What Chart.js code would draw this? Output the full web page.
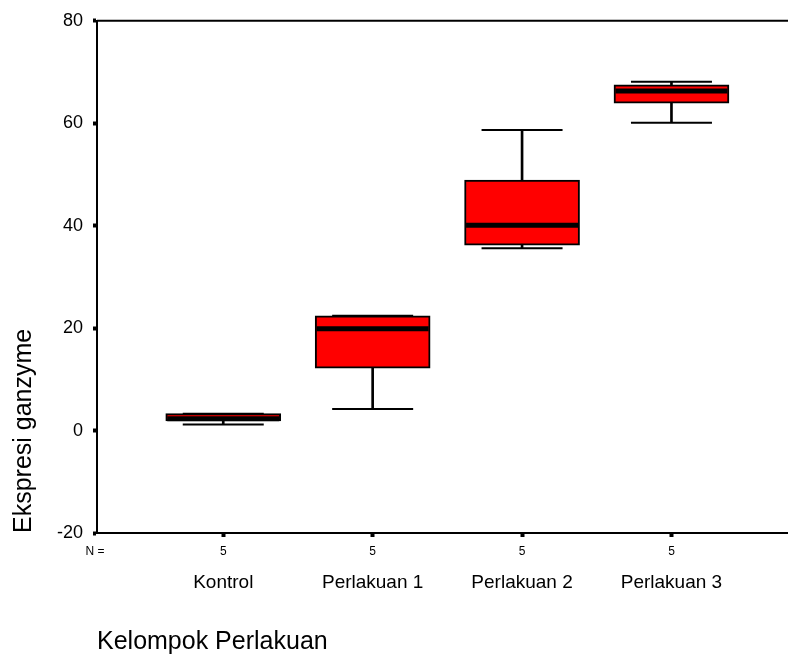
<!DOCTYPE html>
<html>
<head>
<meta charset="utf-8">
<title>Ekspresi ganzyme</title>
<script src="https://cdn.jsdelivr.net/npm/chart.js@4.4.0/dist/chart.umd.min.js"></script>
<style>
  body { margin: 0; background: #fff; }
  #wrap { width: 788px; height: 657px; }
</style>
</head>
<body>
<div id="wrap"><canvas id="boxChart" width="788" height="657"></canvas></div>
<script>
const groups = ['Kontrol', 'Perlakuan 1', 'Perlakuan 2', 'Perlakuan 3'];
const counts = [5, 5, 5, 5];
const minVals = [1.2, 4.2, 35.6, 60.1];
const q1Vals = [1.9, 12.2, 36.2, 63.9];
const medianVals = [2.3, 19.9, 40.1, 66.3];
const q3Vals = [3.3, 22.4, 48.9, 67.5];
const maxVals = [3.3, 22.4, 58.7, 68.1];
const yTicks = [-20, 0, 20, 40, 60, 80];

Chart.defaults.font.family = "'Liberation Sans', Arial, sans-serif";
Chart.defaults.color = '#000';

const idx = groups.map((g, i) => i);

// top frame line + the "N =" row under the axis
const extras = {
    id: 'extras',
    afterDraw(chart) {
        const { ctx, chartArea, scales } = chart;
        ctx.save();
        ctx.strokeStyle = '#000';
        ctx.lineWidth = 2;
        ctx.beginPath();
        ctx.moveTo(chartArea.left, chartArea.top);
        ctx.lineTo(chartArea.right, chartArea.top);
        ctx.stroke();

        ctx.font = "12px 'Liberation Sans', Arial, sans-serif";
        ctx.fillStyle = '#000';
        ctx.textAlign = 'center';
        ctx.textBaseline = 'middle';
        const y = chartArea.bottom + 19;
        ctx.fillText('N =', chartArea.left - 2, y);
        counts.forEach((n, i) => ctx.fillText(String(n), scales.x.getPixelForValue(i), y));
        ctx.restore();
    }
};

const axisGrid = { drawOnChartArea: false, drawTicks: true, tickLength: 4, tickWidth: 4, tickColor: '#000', offset: false };
const axisBorder = { display: true, color: '#000', width: 2 };

new Chart(document.getElementById('boxChart'), {
    type: 'bar',
    data: {
        datasets: [
            {
                type: 'scatter', label: 'median',
                data: idx.map(i => ({ x: i, y: medianVals[i] })),
                pointStyle: 'line', pointRadius: 56, borderColor: '#000', borderWidth: 5,
                order: 0
            },
            {
                label: 'box',
                data: idx.map(i => ({ x: i, y: [q1Vals[i], q3Vals[i]] })),
                backgroundColor: '#ff0000', borderColor: '#000', borderWidth: 2, borderSkipped: false,
                barThickness: 115, grouped: false,
                order: 2
            },
            {
                label: 'whisker low',
                data: idx.map(i => ({ x: i, y: [minVals[i], q1Vals[i]] })),
                backgroundColor: '#000', borderWidth: 0, barThickness: 2, grouped: false,
                order: 3
            },
            {
                label: 'whisker high',
                data: idx.map(i => ({ x: i, y: [q3Vals[i], maxVals[i]] })),
                backgroundColor: '#000', borderWidth: 0, barThickness: 2, grouped: false,
                order: 3
            },
            {
                // caps sit behind the boxes so a cap at the box edge stays hidden
                type: 'scatter', label: 'caps',
                data: idx.map(i => ({ x: i, y: minVals[i] })).concat(idx.map(i => ({ x: i, y: maxVals[i] }))),
                pointStyle: 'line', pointRadius: 40.5, borderColor: '#000', borderWidth: 2,
                order: 4
            }
        ]
    },
    options: {
        responsive: false,
        animation: false,
        layout: { autoPadding: false, padding: { top: 15, right: 0, bottom: 0, left: 0 } },
        plugins: {
            legend: { display: false },
            tooltip: { enabled: false }
        },
        scales: {
            x: {
                type: 'linear', min: -0.845, max: 3.78, offset: false,
                afterBuildTicks: s => { s.ticks = idx.map(v => ({ value: v })); },
                afterFit: s => { s.height = 124; },
                ticks: { callback: v => groups[v], font: { size: 19 }, padding: 34, autoSkip: false, maxRotation: 0 },
                grid: axisGrid,
                border: axisBorder,
                title: { display: true, text: 'Kelompok Perlakuan', align: 'start', font: { size: 25 }, padding: { top: 0, bottom: 0 } }
            },
            y: {
                min: -20, max: 80,
                afterBuildTicks: s => { s.ticks = yTicks.map(v => ({ value: v })); },
                afterFit: s => { s.width = 97; },
                ticks: { font: { size: 18 }, padding: 10 },
                grid: axisGrid,
                border: axisBorder,
                title: { display: true, text: 'Ekspresi ganzyme', align: 'start', font: { size: 25 }, padding: { top: 9, bottom: 0 } }
            }
        }
    },
    plugins: [extras]
});
</script>
</body>
</html>
